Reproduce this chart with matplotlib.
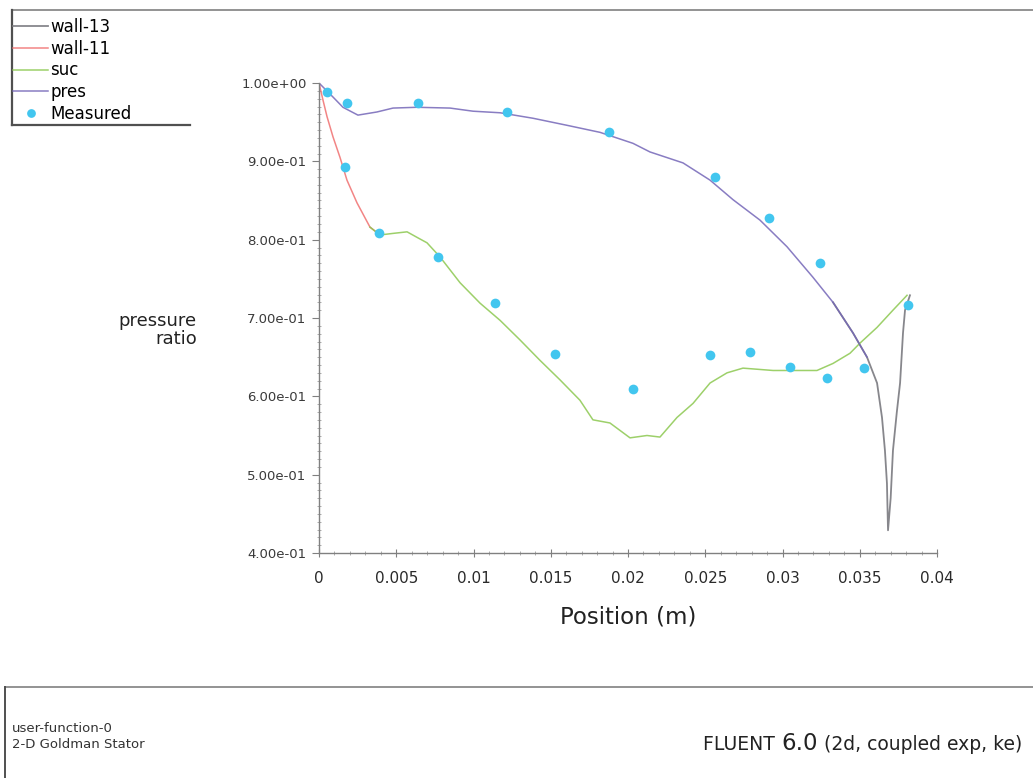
import matplotlib
matplotlib.use("Agg")
import matplotlib.pyplot as plt
from matplotlib.lines import Line2D
from matplotlib.ticker import FixedLocator, MultipleLocator, FormatStrFormatter

# ---------------- data ----------------
pres_x = [0.0, 0.00091, 0.00155, 0.00252, 0.00375, 0.00479, 0.00634, 0.00848, 0.00997,
          0.01172, 0.01385, 0.01605, 0.01819, 0.02032, 0.02142, 0.02356, 0.02531, 0.02680,
          0.02854, 0.03029, 0.03197, 0.03327, 0.03456, 0.03547]
pres_y = [1.0, 0.982, 0.969, 0.959, 0.963, 0.968, 0.969, 0.968, 0.964,
          0.962, 0.955, 0.946, 0.937, 0.923, 0.912, 0.898, 0.876, 0.851,
          0.825, 0.791, 0.752, 0.720, 0.681, 0.650]

wall13_x = [0.03327, 0.03456, 0.03547, 0.03612, 0.03644, 0.03663, 0.03676, 0.03683,
            0.03700, 0.03715, 0.03740, 0.03761, 0.03780, 0.03793, 0.03825]
wall13_y = [0.720, 0.681, 0.650, 0.617, 0.573, 0.531, 0.489, 0.429,
            0.470, 0.531, 0.580, 0.617, 0.681, 0.710, 0.729]

wall11_x = [0.0, 0.00026, 0.00052, 0.00091, 0.00136, 0.00181, 0.00246, 0.00330, 0.00395]
wall11_y = [1.0, 0.978, 0.957, 0.931, 0.905, 0.876, 0.847, 0.816, 0.806]

suc_x = [0.00330, 0.00395, 0.00479, 0.00570, 0.00634, 0.00699, 0.00783, 0.00913, 0.01042,
         0.01172, 0.01301, 0.01430, 0.01560, 0.01689, 0.01773, 0.01883, 0.02013, 0.02123,
         0.02207, 0.02317, 0.02421, 0.02531, 0.02641, 0.02744, 0.02939, 0.03113, 0.03223,
         0.03327, 0.03437, 0.03502, 0.03612, 0.03715, 0.03806]
suc_y = [0.816, 0.806, 0.808, 0.810, 0.803, 0.796, 0.778, 0.745, 0.719,
         0.697, 0.672, 0.646, 0.621, 0.595, 0.570, 0.566, 0.547, 0.550,
         0.548, 0.573, 0.591, 0.617, 0.630, 0.636, 0.633, 0.633, 0.633,
         0.642, 0.655, 0.668, 0.688, 0.710, 0.729]

meas_x = [0.00052, 0.0018, 0.0017, 0.0039, 0.0064, 0.0077, 0.0122, 0.0114, 0.0153, 0.0188,
          0.0203, 0.0256, 0.0253, 0.0279, 0.0291, 0.0305, 0.0324, 0.0329, 0.0353, 0.0381]
meas_y = [0.989, 0.974, 0.893, 0.808, 0.974, 0.778, 0.963, 0.719, 0.654, 0.937,
          0.610, 0.880, 0.653, 0.656, 0.828, 0.637, 0.770, 0.623, 0.636, 0.716]

x_ticks = [0, 0.005, 0.01, 0.015, 0.02, 0.025, 0.03, 0.035, 0.04]
x_tick_labels = ["0", "0.005", "0.01", "0.015", "0.02", "0.025", "0.03", "0.035", "0.04"]
y_ticks = [0.4, 0.5, 0.6, 0.7, 0.8, 0.9, 1.0]

series_labels = ["wall-13", "wall-11", "suc", "pres", "Measured"]

# ---------------- figure ----------------
W, H = 1033, 778
fig = plt.figure(figsize=(W / 100, H / 100), dpi=100)
fig.patch.set_facecolor("white")

def fx(px):
    return px / W

def fy(py):
    return 1 - py / H

ax = fig.add_axes([fx(319), fy(553), fx(937) - fx(319), fy(83) - fy(553)])

l13, = ax.plot(wall13_x, wall13_y, color="#7a7a80", lw=1.3, alpha=0.9)
l11, = ax.plot(wall11_x, wall11_y, color="#f07070", lw=1.1, alpha=0.85)
lsuc, = ax.plot(suc_x, suc_y, color="#8cc850", lw=1.1, alpha=0.85)
lpres, = ax.plot(pres_x, pres_y, color="#7466b8", lw=1.1, alpha=0.85)
meas, = ax.plot(meas_x, meas_y, linestyle="none", marker="o", markersize=7,
                color="#42c6ef", markeredgewidth=0)

ax.set_xlim(0, 0.04)
ax.set_ylim(0.4, 1.0)
ax.xaxis.set_major_locator(FixedLocator(x_ticks))
ax.set_xticklabels(x_tick_labels)
ax.yaxis.set_major_locator(FixedLocator(y_ticks))
ax.yaxis.set_major_formatter(FormatStrFormatter("%.2e"))
ax.xaxis.set_minor_locator(MultipleLocator(0.001))
ax.yaxis.set_minor_locator(MultipleLocator(0.01))

for s in ["top", "right"]:
    ax.spines[s].set_visible(False)
for s in ["left", "bottom"]:
    ax.spines[s].set_color("#808080")
    ax.spines[s].set_linewidth(1.0)

ax.tick_params(axis="y", which="major", direction="out", length=5, color="#808080",
               labelsize=9.5, labelcolor="#3a3a3a", pad=4)
ax.tick_params(axis="y", which="minor", direction="inout", length=3, color="#a0a0a0")
ax.tick_params(axis="x", which="major", direction="inout", length=6, color="#808080",
               labelsize=11, labelcolor="#2a2a2a", pad=10)
ax.tick_params(axis="x", which="minor", direction="inout", length=3, color="#a0a0a0")

ax.set_xlabel("Position (m)", fontsize=16.5, color="#222222", labelpad=14)
fig.text(fx(197), fy(330), "pressure\nratio", ha="right", va="center",
         fontsize=13, color="#222222", linespacing=1.0, multialignment="right")

# legend
fig.legend(handles=[l13, l11, lsuc, lpres, meas], labels=series_labels,
           loc="upper left", bbox_to_anchor=(fx(13), fy(18)), frameon=False,
           fontsize=12, handlelength=2.1, handletextpad=0.15, labelspacing=0.22,
           borderpad=0, borderaxespad=0, markerscale=0.9)

# frame lines (legend box / top line / bottom panel)
frame_c = "#808080"
fig.add_artist(Line2D([fx(12), fx(1033)], [fy(10), fy(10)], transform=fig.transFigure,
                      color=frame_c, lw=1.2))
fig.add_artist(Line2D([fx(12), fx(12)], [fy(10), fy(125)], transform=fig.transFigure,
                      color="#505050", lw=1.6))
fig.add_artist(Line2D([fx(12), fx(190)], [fy(125), fy(125)], transform=fig.transFigure,
                      color="#505050", lw=1.6))
fig.add_artist(Line2D([fx(5), fx(1033)], [fy(687), fy(687)], transform=fig.transFigure,
                      color=frame_c, lw=1.2))
fig.add_artist(Line2D([fx(5), fx(5)], [fy(687), fy(778)], transform=fig.transFigure,
                      color="#505050", lw=1.4))

# bottom panel texts
fig.text(fx(12), fy(729), "user-function-0", ha="left", va="center",
         fontsize=9.5, color="#333333")
fig.text(fx(12), fy(745), "2-D Goldman Stator", ha="left", va="center",
         fontsize=9.5, color="#333333")

# right-hand FLUENT banner: pieces placed right-to-left
fig.canvas.draw()
renderer = fig.canvas.get_renderer()
t3 = fig.text(fx(1022), fy(745), " (2d, coupled exp, ke)", ha="right", va="center",
              fontsize=13.5, color="#222222")
bb3 = t3.get_window_extent(renderer)
t2 = fig.text(bb3.x0 / W, fy(743), "6.0", ha="right", va="center",
              fontsize=16.5, color="#222222")
bb2 = t2.get_window_extent(renderer)
fig.text(bb2.x0 / W, fy(745), "FLUENT ", ha="right", va="center",
         fontsize=13.5, color="#222222")

fig.savefig("out.png", dpi=100, facecolor="white")
